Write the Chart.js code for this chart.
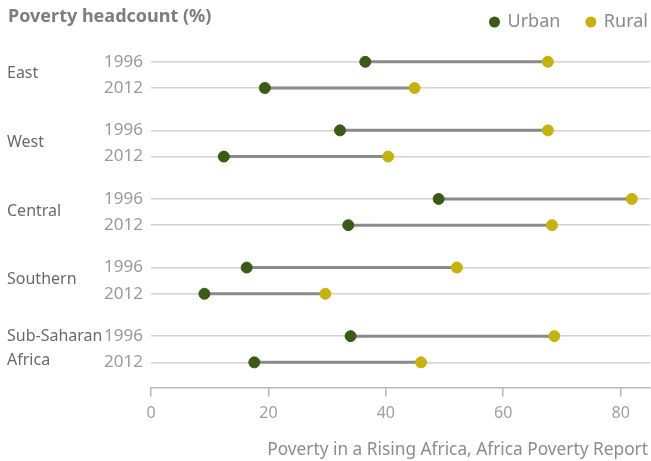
<!DOCTYPE html>
<html>
<head>
<meta charset="utf-8">
<title>Poverty headcount</title>
<script src="https://cdn.jsdelivr.net/npm/chart.js@4.4.0/dist/chart.umd.min.js"></script>
<style>
  html, body { margin: 0; padding: 0; background: #fff; }
  #wrap { width: 651px; height: 461px; }
</style>
</head>
<body>
<div id="wrap"><canvas id="povertyChart" width="651" height="461"></canvas></div>
<script>
// regions, two survey years each
var regions = ['East', 'West', 'Central', 'Southern', ['Sub-Saharan', 'Africa']];
var years = ['1996', '2012'];
// poverty headcount (%), one value per region/year row
var urban = [36.5, 19.4, 32.2, 12.4, 49.0, 33.6, 16.3, 9.1, 34.0, 17.6];
var rural = [67.6, 44.9, 67.6, 40.4, 81.9, 68.3, 52.1, 29.7, 68.7, 46.0];
var xTicks = [0, 20, 40, 60, 80];

var URBAN_COLOR = '#3a5b14';
var RURAL_COLOR = '#c5b20a';
var FONT = '"Noto Sans", sans-serif';
var GROUP_STEP = 2.615;   // distance between region groups, in row units

// y position of each row on the numeric y scale
var rowPos = [];
var rowYear = [];
regions.forEach(function (r, g) {
    years.forEach(function (y, k) {
        rowPos.push(g * GROUP_STEP + k);
        rowYear.push(y);
    });
});

function points(values) {
    return values.map(function (v, i) { return { x: v, y: rowPos[i] }; });
}

// connector segments urban -> rural, broken by empty points
var links = [];
urban.forEach(function (v, i) {
    links.push({ x: v, y: rowPos[i] });
    links.push({ x: rural[i], y: rowPos[i] });
    links.push({ x: null, y: null });
});

var textPlugin = {
    id: 'textPlugin',
    afterDraw: function (chart) {
        var ctx = chart.ctx;
        var yScale = chart.scales.y;
        ctx.save();

        // title
        ctx.font = 'bold 18px ' + FONT;
        ctx.fillStyle = '#7d7d7d';
        ctx.textAlign = 'left';
        ctx.textBaseline = 'middle';
        ctx.fillText('Poverty headcount (%)', 8, 17);

        // legend, right aligned
        ctx.font = '18px ' + FONT;
        var items = [chart.data.datasets[1], chart.data.datasets[2]];
        var x = 648;
        for (var i = items.length - 1; i >= 0; i--) {
            var w = ctx.measureText(items[i].label).width;
            x -= w;
            ctx.fillStyle = '#8a8a8a';
            ctx.fillText(items[i].label, x, 22);
            ctx.beginPath();
            ctx.arc(x - 13, 22, 5.5, 0, Math.PI * 2);
            ctx.fillStyle = items[i].backgroundColor;
            ctx.fill();
            x -= 13 + 5.5 + 25;
        }

        // region labels beside each pair of rows
        ctx.font = '16px ' + FONT;
        ctx.fillStyle = '#6a6a6a';
        regions.forEach(function (r, g) {
            var mid = (yScale.getPixelForValue(rowPos[2 * g]) + yScale.getPixelForValue(rowPos[2 * g + 1])) / 2;
            var lines = Array.isArray(r) ? r : [r];
            var h = 24;
            lines.forEach(function (t, k) {
                ctx.fillText(t, 7, mid + (k - (lines.length - 1) / 2) * h - 1);
            });
        });

        // source
        ctx.font = '17.3px ' + FONT;
        ctx.fillStyle = '#8c8c8c';
        ctx.textAlign = 'right';
        ctx.fillText('Poverty in a Rising Africa, Africa Poverty Report', 648, 450);
        ctx.restore();
    }
};

var ctx = document.getElementById('povertyChart').getContext('2d');
var chart = new Chart(ctx, {
    type: 'scatter',
    data: {
        datasets: [
            {
                label: 'links',
                data: links,
                showLine: true,
                spanGaps: false,
                borderColor: '#8a8a8a',
                borderWidth: 3,
                pointRadius: 0,
                order: 3
            },
            {
                label: 'Urban',
                data: points(urban),
                backgroundColor: URBAN_COLOR,
                borderColor: URBAN_COLOR,
                pointRadius: 5.5,
                order: 1
            },
            {
                label: 'Rural',
                data: points(rural),
                backgroundColor: RURAL_COLOR,
                borderColor: RURAL_COLOR,
                pointRadius: 5.5,
                order: 2
            }
        ]
    },
    options: {
        responsive: false,
        animation: false,
        layout: { autoPadding: false, padding: { top: 40, right: 1, bottom: 31, left: 0 } },
        plugins: {
            legend: { display: false },
            tooltip: { enabled: false }
        },
        scales: {
            x: {
                type: 'linear',
                min: 0,
                max: 85,
                afterBuildTicks: function (scale) {
                    scale.ticks = xTicks.map(function (v) { return { value: v }; });
                },
                grid: { drawOnChartArea: false, drawTicks: true, tickLength: 9, color: '#b8b8b8', lineWidth: 1.5 },
                border: { display: true, color: '#b8b8b8', width: 1.5 },
                ticks: { color: '#a0a0a0', font: { family: FONT, size: 16 }, padding: 7 }
            },
            y: {
                type: 'linear',
                reverse: true,
                min: -0.83,
                max: 12.43,
                afterBuildTicks: function (scale) {
                    scale.ticks = rowPos.map(function (v) { return { value: v }; });
                },
                afterFit: function (scale) { scale.width = 151; },
                grid: { drawTicks: false, color: '#d2d2d2', lineWidth: 1.5 },
                border: { display: false },
                ticks: {
                    color: '#9a9a9a',
                    font: { family: FONT, size: 17 },
                    padding: 8,
                    callback: function (value, index) { return rowYear[index]; }
                }
            }
        }
    },
    plugins: [textPlugin]
});
</script>
</body>
</html>
